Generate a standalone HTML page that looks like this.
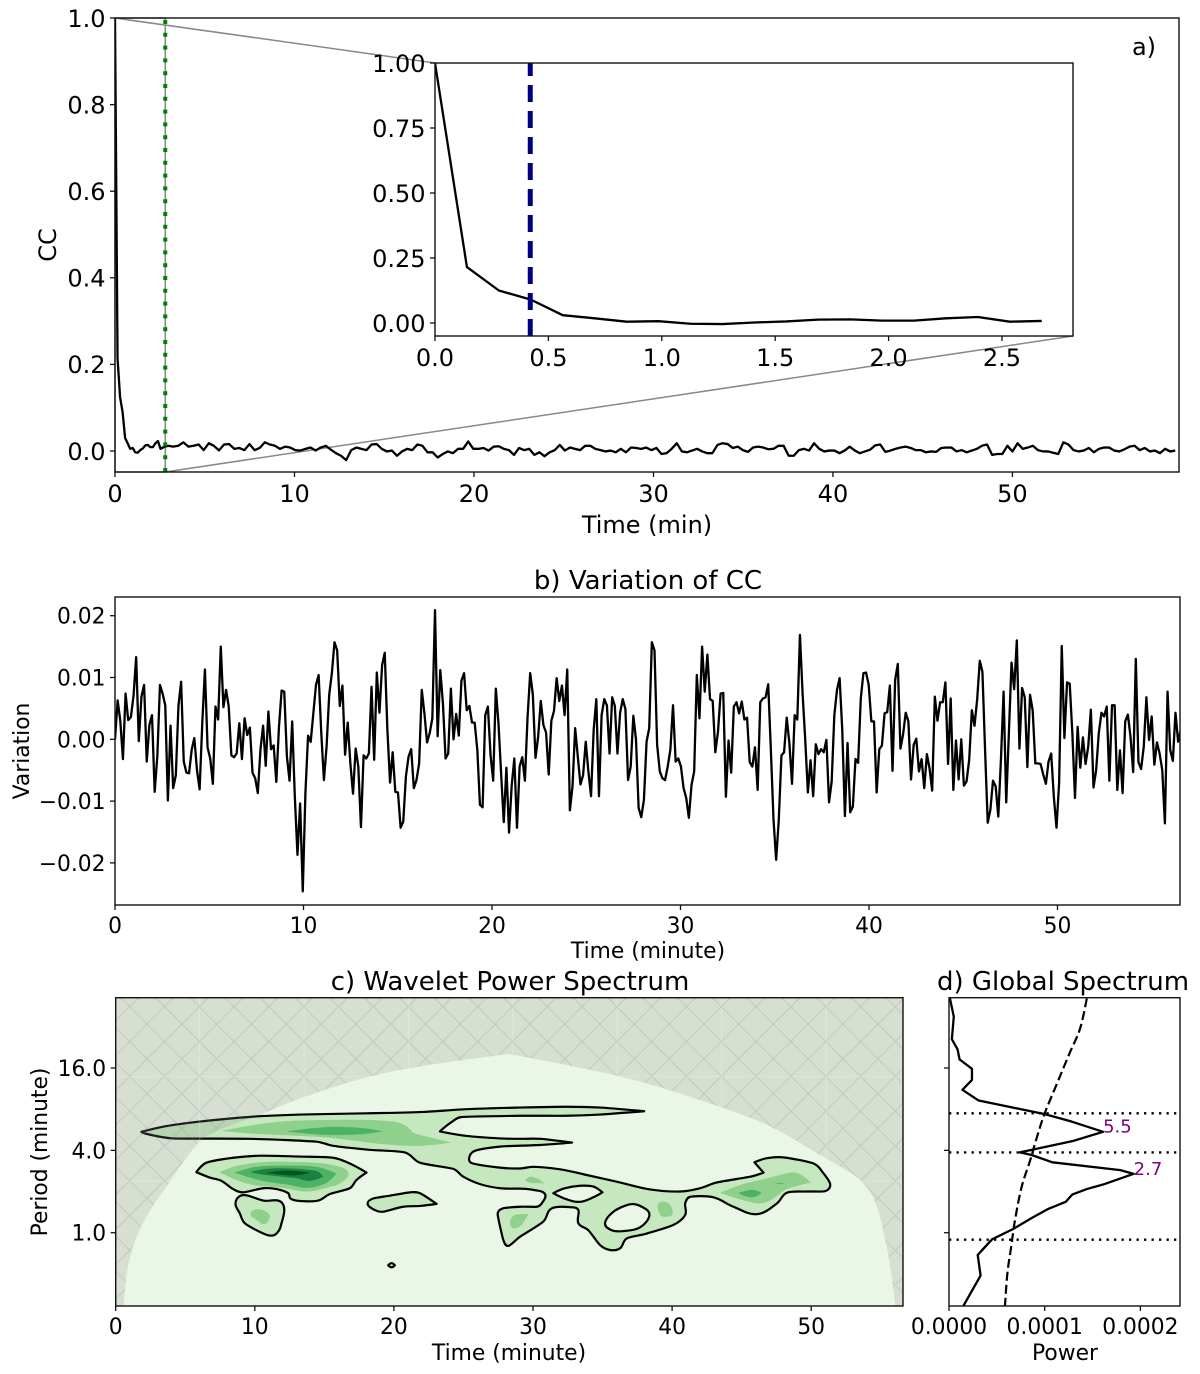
<!DOCTYPE html>
<html lang="en">
<head>
<meta charset="utf-8">
<title>Correlation coefficient and wavelet analysis</title>
<style>
html,body{margin:0;padding:0;background:#fff;}
svg{display:block;}
text{font-family:"DejaVu Sans","Liberation Sans",sans-serif;fill:#000;}
</style>
</head>
<body>
<svg id="figure" xmlns="http://www.w3.org/2000/svg" width="1200" height="1374" viewBox="0 0 1200 1374">
<defs>
<clipPath id="clip-a"><rect x="115" y="18" width="1064" height="454"/></clipPath>
<clipPath id="clip-inset"><rect x="435" y="63" width="638" height="273"/></clipPath>
<clipPath id="clip-b"><rect x="115" y="597" width="1065" height="308"/></clipPath>
<clipPath id="clip-c"><rect x="115.7" y="997.7" width="787.3" height="308.3"/></clipPath>
<clipPath id="clip-d"><rect x="949" y="997.7" width="231" height="308.3"/></clipPath>
<pattern id="hatch" patternUnits="userSpaceOnUse" x="199.3" y="1076.3" width="104.4" height="104.4">
<path d="M0 0L104.4 104.4M34.8 0L104.4 69.6M69.6 0L104.4 34.8M0 34.8L69.6 104.4M0 69.6L34.8 104.4M104.4 0L0 104.4M69.6 0L0 69.6M34.8 0L0 34.8M104.4 34.8L34.8 104.4M104.4 69.6L69.6 104.4" stroke="#808080" stroke-opacity="0.22" stroke-width="1.1" fill="none"/>
<path d="M0 0H104.4M0 0V104.4" stroke="#ffffff" stroke-opacity="0.28" stroke-width="1.6" fill="none"/>
</pattern>
</defs>
<rect x="0" y="0" width="1200" height="1374" fill="#ffffff"/>
<g id="panel-a"></g>
<g id="panel-b"></g>
<g id="panel-c"></g>
<g id="panel-d"></g>
<text x="1144" y="55" font-size="24" text-anchor="middle">a)</text>
<text x="647" y="533" font-size="24" text-anchor="middle">Time (min)</text>
<text x="0" y="0" font-size="24" text-anchor="middle" transform="translate(56,245) rotate(-90)">CC</text>
<text x="648" y="589" font-size="26" text-anchor="middle">b) Variation of CC</text>
<text x="648" y="958" font-size="21.8" text-anchor="middle">Time (minute)</text>
<text x="0" y="0" font-size="21.8" text-anchor="middle" transform="translate(29,751) rotate(-90)">Variation</text>
<text x="510" y="990" font-size="26" text-anchor="middle">c) Wavelet Power Spectrum</text>
<text x="509" y="1360" font-size="21.8" text-anchor="middle">Time (minute)</text>
<text x="0" y="0" font-size="21.8" text-anchor="middle" transform="translate(47,1152) rotate(-90)">Period (minute)</text>
<text x="1063" y="990" font-size="26" text-anchor="middle">d) Global Spectrum</text>
<text x="1065" y="1360" font-size="21.8" text-anchor="middle">Power</text>
</svg>
<script>
/* ---------- Panel a: autocorrelation, first samples (also the inset) ---------- */
const insetStep = 0.1408;
const insetValues = [1.0,0.215,0.125,0.09,0.03,0.018,0.005,0.007,-0.003,-0.004,0.002,0.006,0.013,0.014,0.009,0.009,0.018,0.023,0.005,0.008];
/* Remaining CC samples, thousandths, read every 2 samples */
const ccTailStep = 0.2834;
const ccTailThousandths = [8.5,12,10,12,20,10,12,15,2,18,12,1.5,15,16,5,7,2,16,2,7,20,15,12,5,10,8,2,1,5,8,1,8,12,3,-5,-11,-21,2,8,5,2,15,16,5,-1,1,-11,-1,5,2,15,12,-3,-3,-15,-7,-1,-5,5,5,22,5,5,7,1,10,11,5,2,-9,7,2,5,-9,-3,-12,-3,2,14,1,8,5,2,12,12,5,2,-1,1,-3,5,-3,8,7,5,8,
2,7,-7,-5,5,18,-1,-3,1,5,-1,-5,-5,14,18,16,7,10,2,-2,8,10,8,4,5,12,12,-11,-11,2,5,1,18,5,-1,1,1,-5,1,10,1,-5,-1,3,13,15,-2,1,5,8,10,7,2,2,-3,-1,-2,7,8,8,-1,2,-3,1,5,12,15,-9,-7,-7,12,-1,18,5,8,12,2,-1,-1,-4,-7,20,15,2,-1,1,7,-3,5,8,8,1,-1,4,10,12,2,7,-1,1,-5,5,-1,1];
const aXTicks = [0,10,20,30,40,50];
const aXTickLabels = ["0","10","20","30","40","50"];
const aYTicks = [0,0.2,0.4,0.6,0.8,1.0];
const aYTickLabels = ["0.0","0.2","0.4","0.6","0.8","1.0"];
const insetMarkerTime = 0.42;
const mainMarkerTime = 2.8;
const insetXTicks = [0,0.5,1,1.5,2,2.5];
const insetXTickLabels = ["0.0","0.5","1.0","1.5","2.0","2.5"];
const insetYTicks = [0,0.25,0.5,0.75,1];
const insetYTickLabels = ["0.00","0.25","0.50","0.75","1.00"];

/* ---------- Panel b: variation of CC, thousandths ---------- */
const variationStep = 0.1403;
const variationThousandths = [0,6.3,3,-3.2,7.4,3.1,3.6,7,13.3,-0.3,6.9,8.8,-3.6,2.3,3.9,-8.5,-2.8,8.8,7.4,5.5,-9.9,2.2,-7.9,-5.8,5.5,9.3,-3.6,-5.4,-5.5,-1.7,0.2,-5,-8.1,2.6,11.3,-1.3,-3.1,-7.2,5.3,3.2,15,5.2,8,5.3,-2.6,-2.9,-2.3,2.6,-3.2,3.4,0.7,1.9,-5.4,-6.3,-8.7,-1.7,2.2,-4.3,4.5,-1.6,-1,-6.9,2,7.9,7.7,-2.8,-6.7,2.9,-9.3,-18.7,-10.4,-24.6,-8.7,0.6,-0.4,4.2,8.8,10.4,1,-6.6,-1.2,7.2,10.7,15.7,14.4,5.4,8.7,-2.5,2.7,-3.9,-8.8,-1.5,-4.4,-14.2,-2.6,-3.1,-2.3,8.5,-3.3,10.8,4.3,12,14,1.5,-7,-2.1,-8.5,-8.6,-14.3,-13.3,-6,-2.8,-1.6,-7.9,-6.6,-3.9,8,4.2,-0.5,1,3.4,20.9,0.5,11.2,5.8,-3.1,-2.3,8.2,0,4.1,0.6,9.5,10.7,4.7,5.4,2.7,2.7,-1.7,-10.6,-11,3.9,5.3,-2.5,-6.7,8.2,2.6,-5.5,-13.4,-4.6,-15.1,-7.5,-3.1,-14.3,-4.4,-2.9,-6.7,3.6,10.7,7.2,-3,0.4,6.2,2.3,1.1,-5.7,3,4.6,9.9,6.2,8.7,3.9,11.3,-11.5,-7.6,1.8,-2.8,-7.3,-5.8,-0.4,-5.2,-9.2,1.5,6.5,-9.2,3.9,6.5,5.5,-2.3,6.8,5.4,-2.3,4.3,6.5,4.9,-6.6,-4.4,3.8,0,-11.1,-12.6,-9.8,-0.4,1.8,
15.7,14.4,-0.9,-5.2,-6.3,-6.6,-4.4,-1.7,5.5,-3.6,-3.1,-4.4,-7.9,-9.5,-12.7,-7.4,-5.2,10.4,3.4,15,7.7,13.7,6.5,6.2,-2.1,1.2,7.4,7.5,-9.3,-0.2,-5.4,5.3,6,4.2,6.1,3.2,3.5,-3.7,-4.4,-1.3,-8.2,6,6.6,6.8,8.9,-1.7,-13,-19.5,-13,-2.6,-2.1,3.5,-0.6,-7.2,3.9,3.2,16.9,7.4,-0.1,-8.6,-3.4,-9.2,-0.8,-2.4,-1.6,-2.1,-0.1,-10.2,-6.8,3.9,8,9.9,1.5,-12.4,-0.6,-11.8,-10.9,-3.2,-3.8,6.6,10.7,10.8,8.8,2.9,2.9,-8.6,-1.6,-1,4.2,4.4,8.7,-5.1,9.6,12.2,-1.5,0.8,4.3,2.9,-6.5,-0.9,0.1,-5.2,-3.2,-7.9,-2.4,-4.7,-8.3,6.9,3,6,6,9.2,-4,6.6,-8.2,-0.2,-6.5,0,-7.5,-6.8,-3.3,4.7,2.2,6.4,12.7,10.9,-1.7,-13.5,-11.4,-6.7,-7.6,-12.5,-3.3,7.7,-10.2,1,12.4,8.1,16,-1.5,8.3,6.8,-4.5,7.2,4.7,-3.9,-3.9,-4,-5.7,-7.2,-3.6,-2.3,-9.3,-14.3,-7.1,15.1,0.2,9.2,9,1,-9.5,2,-4.6,0.3,-4,-1.2,4.8,-7.8,-5,1,4.3,3.7,5.3,-6.7,5.5,5.5,-8.2,-1.8,-8.7,2.9,4,0.4,-5.3,13,-3.7,-4.8,-1.2,6.8,-0.1,3.7,-4.1,-0.5,-2.3,-5,-13.6,7.7,-1.7,-3.5,4.3,-0.4,1.5];
const bXTicks = [0,10,20,30,40,50];
const bXTickLabels = ["0","10","20","30","40","50"];
const bYTicks = [-0.02,-0.01,0,0.01,0.02];
const bYTickLabels = ["\u22120.02","\u22120.01","0.00","0.01","0.02"];

/* ---------- Panel c: wavelet contours, pairs of [minutes, log2(period in minutes)] ---------- */
const blobMainOutline = [[1.85,2.45],[3.65,2.59],[6.04,2.70],[8.44,2.78],[10.36,2.83],[13.24,2.87],[18.03,2.90],[21.87,2.93],[25.23,3.00],[29.06,3.04],[32.42,3.06],[34.82,3.04],[37.99,2.95],[34.82,2.87],[32.42,2.84],[29.06,2.84],[24.87,2.81],[24.03,2.66],[23.31,2.46],[25.23,2.35],[27.63,2.29],[29.06,2.28],[30.5,2.28],[32.81,2.19],[30.5,2.13],[27.63,2.09],[25.71,1.97],[25.54,1.70],[27.63,1.58],[29.06,1.56],[30.02,1.60],[31.94,1.54],[33.62,1.42],[36.02,1.24],[38.42,1.05],[40.58,1.00],[42.01,1.08],[43.21,1.22],[45.61,1.36],[46.57,1.46],[45.92,1.71],[46.81,1.81],[48.01,1.83],[50.17,1.68],[50.89,1.44],[51.37,1.17],[51.01,1.01],[49.69,1.00],[48.25,0.97],[47.53,0.71],[46.09,0.45],[44.41,0.63],[42.97,0.86],[41.29,0.87],[40.94,0.71],[40.94,0.43],[40.10,0.19],[38.18,-0.02],[36.74,-0.14],[36.26,-0.38],[35.54,-0.42],[34.82,-0.30],[33.98,0.06],[33.26,0.23],[33.26,0.55],[32.66,0.62],[31.34,0.59],[30.74,0.27],[29.06,-0.10],[28.23,-0.32],[27.87,-0.18],[27.46,0.45],[27.82,0.59],[29.06,0.63],[30.26,0.63],[30.62,0.71],[30.86,0.94],[30.02,1.04],[29.06,1.07],[27.63,1.08],[26.19,1.18],[24.99,1.36],[24.27,1.55],[21.87,1.70],[20.79,1.95],[18.03,2.02],[15.64,2.11],[14.44,2.21],[9.64,2.28],[4.12,2.29],[2.09,2.41]];
const holeA = [[31.46,0.96],[32.30,1.08],[33.38,1.14],[34.34,1.12],[34.99,0.98],[34.34,0.86],[33.38,0.75],[32.42,0.81]];
const holeB = [[35.18,0.23],[35.78,0.51],[36.98,0.69],[37.82,0.63],[38.37,0.43],[37.70,0.13],[36.50,0.04],[35.66,0.06]];
const blobUpperLeft = [[5.80,1.47],[6.52,1.70],[8.44,1.82],[10.36,1.87],[13.24,1.85],[15.64,1.82],[16.83,1.68],[18.03,1.46],[17.31,1.28],[16.83,1.08],[15.40,0.94],[14.56,0.78],[13.24,0.77],[12.57,0.83],[12.40,0.96],[11.56,1.06],[10.60,1.08],[9.16,0.98],[8.44,1.06],[7.60,1.26],[6.76,1.34]];
const blobLowerLeft = [[8.61,0.70],[8.92,0.89],[9.52,0.90],[10.60,0.78],[11.99,0.71],[11.89,0.19],[11.56,-0.02],[11.08,-0.07],[10.36,0.02],[9.28,0.23],[8.92,0.47]];
const blobMiddle = [[18.11,0.70],[18.51,0.83],[19.71,0.90],[21.15,0.98],[21.87,0.96],[23.07,0.70],[21.87,0.65],[20.67,0.63],[19.23,0.51],[18.63,0.55]];
const blobDot = [[19.59,-0.79],[19.83,-0.74],[20.07,-0.79],[19.83,-0.84]];
const level1Shapes = [[blobMainOutline,holeA,holeB],[blobUpperLeft],[blobLowerLeft],[blobMiddle],[blobDot]];
const level2Shapes = [
 [[7.60,2.47],[9.64,2.60],[12.28,2.71],[15.64,2.74],[18.03,2.74],[19.95,2.70],[20.91,2.59],[21.51,2.41],[24.15,2.19],[21.87,2.11],[19.23,2.15],[16.83,2.25],[14.44,2.33],[9.64,2.41]],
 [[7.43,1.47],[8.68,1.62],[10.84,1.72],[13.72,1.71],[15.64,1.64],[16.71,1.46],[16.12,1.20],[15.28,1.10],[13.72,1.00],[12.04,1.09],[9.88,1.16],[8.68,1.28]],
 [[9.69,0.45],[10.12,0.57],[10.84,0.51],[11.08,0.39],[10.72,0.21],[10.12,0.31]],
 [[28.35,0.27],[28.71,0.43],[29.66,0.45],[29.18,0.19],[28.59,0.11]],
 [[39.02,0.71],[39.74,0.71],[40.02,0.45],[39.38,0.39],[39.09,0.47]],
 [[29.42,1.26],[29.78,1.36],[30.38,1.30],[30.82,1.20],[29.90,1.21]],
 [[43.45,0.97],[44.89,1.16],[46.81,1.32],[48.49,1.46],[49.21,1.42],[49.98,1.22],[48.25,1.06],[47.29,0.83],[46.33,0.71],[44.89,0.81]]
];
const level3Shapes = [
 [[12.28,2.46],[14.20,2.54],[16.12,2.57],[18.03,2.53],[19.23,2.46],[17.55,2.39],[15.64,2.37],[13.72,2.41]],
 [[8.56,1.46],[10.12,1.60],[12.28,1.63],[14.44,1.60],[15.88,1.44],[15.16,1.21],[13.84,1.09],[12.52,1.16],[10.84,1.24],[9.64,1.34]],
 [[44.77,0.97],[45.73,1.04],[46.45,0.97],[45.85,0.86],[45.13,0.90]],
 [[47.41,1.20],[48.13,1.21],[47.77,1.18]]
];
const level4Shapes = [
 [[9.64,1.47],[10.84,1.55],[12.52,1.56],[14.44,1.50],[14.92,1.36],[13.96,1.26],[13.00,1.32],[10.84,1.40]]
];
const level5Shapes = [
 [[10.84,1.45],[12.28,1.51],[13.96,1.46],[12.76,1.39]]
];
const coneRising = [[0.58,-1.78],[0.77,-1.07],[1.25,-0.34],[2.21,0.39],[3.65,1.12],[6.04,2.21],[8.44,2.63],[10.36,2.86],[13.24,3.26],[18.03,3.77],[22.83,4.09],[28.30,4.34]];
const coneFalling = [[28.30,4.34],[32.42,4.07],[37.22,3.71],[42.01,3.22],[46.81,2.62],[50.41,1.93],[52.09,1.60],[53.65,1.24],[54.73,0.63],[55.56,-0.58],[56.04,-1.78]];
const cXTicks = [0,10,20,30,40,50];
const cXTickLabels = ["0","10","20","30","40","50"];
const periodTicksLog2 = [0,2,4];
const periodTickLabels = ["1.0","4.0","16.0"];

/* ---------- Panel d: global spectrum, power in units of 1e-4 ---------- */
const spectrumPower = [0.01,0.05,0.03,0.09,0.11,0.24,0.24,0.14,0.31,1.00,1.28,1.61,1.30,0.74,0.86,1.08,1.79,1.93,1.61,1.44,1.29,1.22,1.03,0.86,0.67,0.45,0.30,0.33,0.15];
const spectrumLog2Period = [5.69,5.25,4.70,4.45,4.21,3.98,3.71,3.47,3.21,2.88,2.70,2.45,2.23,1.95,1.89,1.71,1.52,1.43,1.17,1.06,0.93,0.75,0.57,0.35,0.09,-0.16,-0.54,-1.04,-1.78];
const significancePower = [1.44,1.37,1.26,1.13,1.00,0.92,0.85,0.76,0.69,0.65,0.61,0.585];
const significanceLog2Period = [5.69,4.96,4.36,3.63,2.90,2.33,1.77,1.12,0.31,-0.34,-0.99,-1.78];
const periodGuidesLog2 = [2.90,1.95,-0.17];
const peakLabels = ["5.5","2.7"];
const peakPower = [1.61,1.93];
const peakLog2Period = [2.58,1.55];
const dXTicks = [0,1,2];
const dXTickLabels = ["0.0000","0.0001","0.0002"];

const NS = 'http://www.w3.org/2000/svg';
function mk(parent, tag, attrs) {
  const el = document.createElementNS(NS, tag);
  for (const k in attrs) el.setAttribute(k, attrs[k]);
  parent.appendChild(el);
  return el;
}
function linear(d0, d1, r0, r1) {
  return v => r0 + (v - d0) * (r1 - r0) / (d1 - d0);
}
function polyline(xs, ys) {
  return xs.map((x, i) => (i ? 'L' : 'M') + x.toFixed(2) + ' ' + ys[i].toFixed(2)).join('');
}
/* Tangent at a vertex given its neighbours; sharp corners stay pointed */
function tangent(a, b, c) {
  const v1 = [b[0] - a[0], b[1] - a[1]], v2 = [c[0] - b[0], c[1] - b[1]];
  const l1 = Math.hypot(v1[0], v1[1]) || 1, l2 = Math.hypot(v2[0], v2[1]) || 1;
  if ((v1[0] * v2[0] + v1[1] * v2[1]) / (l1 * l2) < -0.2) return [0, 0];
  const d = [c[0] - a[0], c[1] - a[1]], dl = Math.hypot(d[0], d[1]) || 1;
  const m = Math.min(l1, l2) * 0.38;
  return [d[0] / dl * m, d[1] / dl * m];
}
/* Smooth Bezier segments through pixel points; closed rings wrap round */
function smoothSegments(p, closed) {
  const n = p.length;
  const at = i => closed ? p[(i + n) % n] : p[Math.max(0, Math.min(n - 1, i))];
  let s = '';
  const last = closed ? n : n - 1;
  for (let i = 0; i < last; i++) {
    const t1 = tangent(at(i - 1), at(i), at(i + 1));
    const t2 = tangent(at(i), at(i + 1), at(i + 2));
    const a = at(i), b = at(i + 1);
    s += 'C' + (a[0] + t1[0]).toFixed(2) + ' ' + (a[1] + t1[1]).toFixed(2) + ' ' +
         (b[0] - t2[0]).toFixed(2) + ' ' + (b[1] - t2[1]).toFixed(2) + ' ' +
         b[0].toFixed(2) + ' ' + b[1].toFixed(2);
  }
  return s;
}

/* Draw spines, ticks and tick labels for one axes box */
function drawAxes(g, box, xS, yS, xTicks, xLabels, yTicks, yLabels, fs) {
  const frame = mk(g, 'rect', {x: box.l, y: box.t, width: box.r - box.l, height: box.b - box.t, fill: 'none', stroke: '#111', 'stroke-width': 1.4});
  
  
  xTicks.forEach((v, i) => {
    const px = xS(v);
    const tick = mk(g, 'line', {x1: px, x2: px, y1: box.b, y2: box.b + 5, stroke: '#111', 'stroke-width': 1.3});
    
    
    const lab = mk(g, 'text', {x: px, y: box.b + 5 + fs * 1.05, 'font-size': fs, 'text-anchor': 'middle'});
    lab.textContent = xLabels[i];
    
    
  });
  yTicks.forEach((v, i) => {
    const py = yS(v);
    const tick = mk(g, 'line', {x1: box.l - 5, x2: box.l, y1: py, y2: py, stroke: '#111', 'stroke-width': 1.3});
    
    
    if (yLabels) {
      const lab = mk(g, 'text', {x: box.l - 9.5, y: py + fs * 0.365, 'font-size': fs, 'text-anchor': 'end'});
      lab.textContent = yLabels[i];
      
      
    }
  });
}

/* ===== Panel a ===== */
(function () {
  const g = document.getElementById('panel-a');
  const box = {l: 115, r: 1179, t: 18, b: 472};
  const x = linear(0, 59.28, box.l, box.r);
  const y = linear(0, 1, 451, 18);
  const times = insetValues.map((_, i) => i * insetStep);
  const vals = insetValues.slice();
  ccTailThousandths.forEach((v, i) => {
    times.push((insetValues.length - 1) * insetStep + i * ccTailStep);
    vals.push(v / 1000);
  });
  const zoomBox = mk(g, 'rect', {x: x(0), y: box.t, width: x(mainMarkerTime) - x(0), height: box.b - box.t, fill: 'none', stroke: '#888', 'stroke-width': 1.5});
  
  
  const conn1 = mk(g, 'line', {x1: 115, y1: 18, x2: 435, y2: 63, stroke: '#888', 'stroke-width': 1.5});
  
  
  const conn2 = mk(g, 'line', {x1: x(mainMarkerTime), y1: 472, x2: 1073, y2: 336, stroke: '#888', 'stroke-width': 1.5});
  
  
  const series = mk(g, 'path', {d: polyline(times.map(x), vals.map(y)), fill: 'none', stroke: '#000', 'stroke-width': 2.3, 'stroke-linejoin': 'round', 'clip-path': 'url(#clip-a)'});
  
  
  const marker = mk(g, 'line', {x1: x(mainMarkerTime), x2: x(mainMarkerTime), y1: 472, y2: 18, stroke: '#008000', 'stroke-width': 4, 'stroke-dasharray': '4 8.8'});
  
  
  drawAxes(g, box, x, y, aXTicks, aXTickLabels, aYTicks, aYTickLabels, 24);

  /* inset */
  const ibox = {l: 435, r: 1073, t: 63, b: 336};
  const ix = linear(0, 2.5, 435, 1002);
  const iy = linear(0, 1, 323, 63);
  const ibg = mk(g, 'rect', {x: ibox.l, y: ibox.t, width: ibox.r - ibox.l, height: ibox.b - ibox.t, fill: '#fff'});
  
  
  const iseries = mk(g, 'path', {d: polyline(insetValues.map((_, i) => ix(i * insetStep)), insetValues.map(iy)), fill: 'none', stroke: '#000', 'stroke-width': 2.3, 'stroke-linejoin': 'round', 'clip-path': 'url(#clip-inset)'});
  
  
  const imarker = mk(g, 'line', {x1: ix(insetMarkerTime), x2: ix(insetMarkerTime), y1: 336, y2: 63, stroke: '#000080', 'stroke-width': 5, 'stroke-dasharray': '17 9'});
  
  
  drawAxes(g, ibox, ix, iy, insetXTicks, insetXTickLabels, insetYTicks, insetYTickLabels, 24);
})();

/* ===== Panel b ===== */
(function () {
  const g = document.getElementById('panel-b');
  const box = {l: 115, r: 1180, t: 597, b: 905};
  const x = linear(0, 56.5, box.l, box.r);
  const y = linear(0, 0.02, 739.3, 615.7);
  const xs = variationThousandths.map((_, i) => x(i * variationStep));
  const ys = variationThousandths.map(v => y(v / 1000));
  const series = mk(g, 'path', {d: polyline(xs, ys), fill: 'none', stroke: '#000', 'stroke-width': 2.3, 'stroke-linejoin': 'round', 'clip-path': 'url(#clip-b)'});
  
  
  drawAxes(g, box, x, y, bXTicks, bXTickLabels, bYTicks, bYTickLabels, 21.8);
})();

/* ===== Panel c ===== */
(function () {
  const g = document.getElementById('panel-c');
  const box = {l: 115.7, r: 903, t: 997.7, b: 1306};
  const x = linear(0, 56.6, box.l, box.r);
  const y = linear(0, 1, 1232.7, 1191.53);
  const toPx = pts => pts.map(p => [x(p[0]), y(p[1])]);
  const ring = pts => {
    const q = toPx(pts);
    return 'M' + q[0][0].toFixed(2) + ' ' + q[0][1].toFixed(2) + smoothSegments(q, true) + 'Z';
  };
  const bg = mk(g, 'rect', {x: box.l, y: box.t, width: box.r - box.l, height: box.b - box.t, fill: '#ebf7e6'});
  
  
  const plot = mk(g, 'g', {'clip-path': 'url(#clip-c)'});
  
  
  level1Shapes.forEach(rings => {
    const p = mk(plot, 'path', {d: rings.map(ring).join(''), fill: '#c6e8bf', 'fill-rule': 'evenodd'});
    
    
  });
  level2Shapes.forEach(pts => {
    const p = mk(plot, 'path', {d: ring(pts), fill: '#8ed08c'});
    
    
  });
  level3Shapes.forEach(pts => {
    const p = mk(plot, 'path', {d: ring(pts), fill: '#4eb264'});
    
    
  });
  level4Shapes.forEach(pts => {
    const p = mk(plot, 'path', {d: ring(pts), fill: '#1b8140'});
    
    
  });
  level5Shapes.forEach(pts => {
    const p = mk(plot, 'path', {d: ring(pts), fill: '#00521f'});
    
    
  });
  level1Shapes.forEach(rings => {
    const p = mk(plot, 'path', {d: rings.map(ring).join(''), fill: 'none', stroke: '#000', 'stroke-width': 2.2, 'stroke-linejoin': 'round'});
    
    
  });
  const fallPx = toPx(coneFalling).reverse();
  const risePx = toPx(coneRising).reverse();
  const coiD = 'M' + box.l + ' ' + box.b + 'V' + box.t + 'H' + box.r + 'V' + box.b + 'H' +
    fallPx[0][0].toFixed(2) + smoothSegments(fallPx, false) + smoothSegments(risePx, false) + 'Z';
  const coi = mk(plot, 'path', {d: coiD, fill: '#808080', 'fill-opacity': 0.2});
  
  
  const coiHatch = mk(plot, 'path', {d: coiD, fill: 'url(#hatch)'});
  
  
  drawAxes(g, box, x, y, cXTicks, cXTickLabels, periodTicksLog2, periodTickLabels, 21.8);
})();

/* ===== Panel d ===== */
(function () {
  const g = document.getElementById('panel-d');
  const box = {l: 949, r: 1180, t: 997.7, b: 1306};
  const x = linear(0, 2.414, box.l, box.r);
  const y = linear(0, 1, 1232.7, 1191.53);
  const plot = mk(g, 'g', {'clip-path': 'url(#clip-d)'});
  
  
  periodGuidesLog2.forEach(v => {
    const guide = mk(plot, 'line', {x1: box.l, x2: box.r, y1: y(v), y2: y(v), stroke: '#000', 'stroke-width': 2.3, 'stroke-dasharray': '2.3 5.2'});
    
    
  });
  const sigPx = significancePower.map((v, i) => [x(v), y(significanceLog2Period[i])]);
  const sig = mk(plot, 'path', {d: 'M' + sigPx[0][0].toFixed(2) + ' ' + sigPx[0][1].toFixed(2) + smoothSegments(sigPx, false), fill: 'none', stroke: '#000', 'stroke-width': 2.2, 'stroke-dasharray': '9 4'});
  
  
  const spec = mk(plot, 'path', {d: polyline(spectrumPower.map(x), spectrumLog2Period.map(y)), fill: 'none', stroke: '#000', 'stroke-width': 2.3, 'stroke-linejoin': 'round'});
  
  
  peakLabels.forEach((t, i) => {
    const lab = mk(g, 'text', {x: x(peakPower[i]), y: y(peakLog2Period[i]) + 6, 'font-size': 18, style: 'fill:#800080'});
    lab.textContent = t;
    
    
  });
  drawAxes(g, box, x, y, dXTicks, dXTickLabels, periodTicksLog2, null, 21.8);
})();
</script>
</body>
</html>
